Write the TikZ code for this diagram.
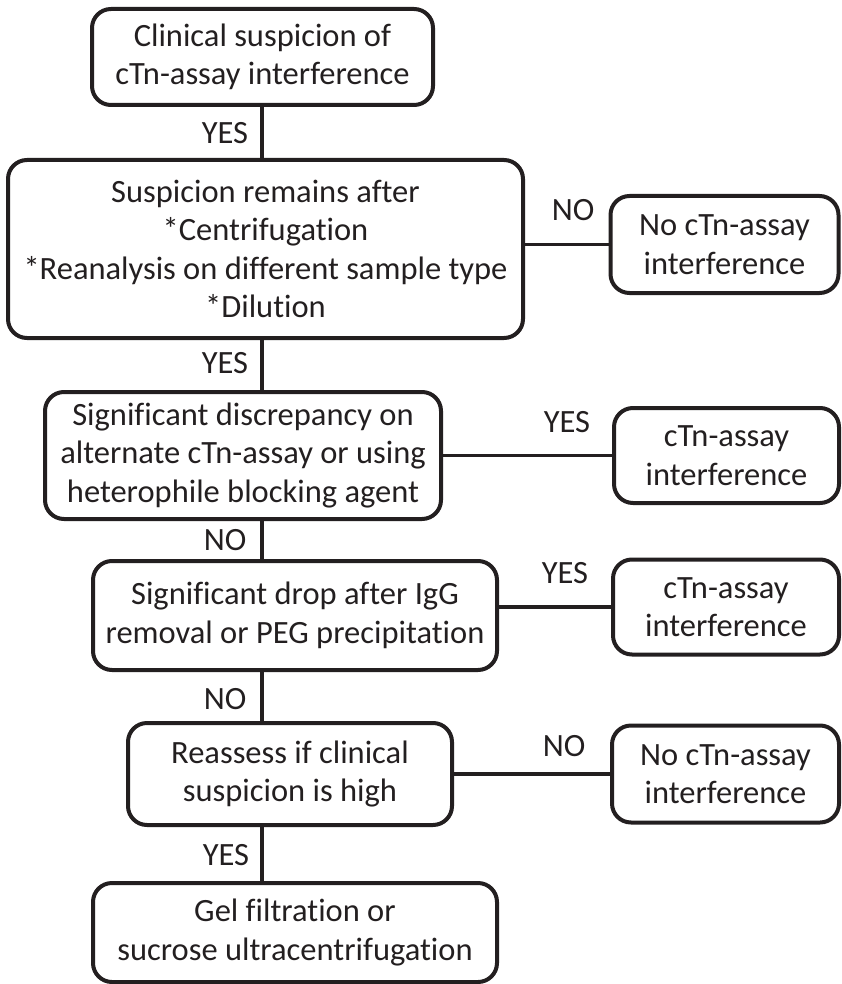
\documentclass[tikz,border=0pt]{standalone}
\usepackage{fontspec}
\setmainfont{Carlito}[Ligatures=NoCommon]
\usepackage{tikz}
\usetikzlibrary{positioning}
\definecolor{myInk}{HTML}{231F20}
\tikzset{
    stepbox/.style={draw=myInk,line width=4pt,rounded corners=19pt,
        rectangle,inner sep=0pt,align=center},
    link/.style={draw=myInk,line width=3.8pt},
    answer/.style={inner sep=0pt},
}

\begin{document}
\begin{tikzpicture}[%
        x=1pt,y=-1pt,
        every node/.style={
            font=\fontsize{32.5}{38.5}\selectfont,
            text=myInk,
        },
    ]
    \useasboundingbox (0,0) rectangle (842,984);

    % main column of boxes
    \node[stepbox,minimum width=341,minimum height=96] (suspicion) at (262.5,57)
        {Clinical suspicion of\\cTn-assay interference};
    \node[stepbox,minimum width=515,minimum height=178] (remains) at (265.5,249)
        {Suspicion remains after\\*Centrifugation\\*Reanalysis on different sample type\\*Dilution};
    \node[stepbox,minimum width=396,minimum height=127] (discrepancy) at (243,455.5)
        {Significant discrepancy on\\alternate cTn-assay or using\\heterophile blocking agent};
    \node[stepbox,minimum width=404,minimum height=109] (drop) at (295,615.5)
        {Significant drop after IgG\\removal or PEG precipitation};
    \node[stepbox,minimum width=324,minimum height=102] (reassess) at (290,774)
        {Reassess if clinical\\suspicion is high};
    \node[stepbox,minimum width=404,minimum height=99] (gel) at (295,932.5)
        {Gel filtration or\\sucrose ultracentrifugation};

    % outcome boxes on the right
    \node[stepbox,minimum width=228,minimum height=97] (outA) at (724.5,244.5)
        {No cTn-assay\\interference};
    \node[stepbox,minimum width=225,minimum height=95] (outB) at (726.5,455.5)
        {cTn-assay\\interference};
    \node[stepbox,minimum width=226,minimum height=95] (outC) at (726,607)
        {cTn-assay\\interference};
    \node[stepbox,minimum width=227,minimum height=97] (outD) at (725.5,774)
        {No cTn-assay\\interference};

    % vertical spine
    \coordinate (spine) at (262,0);
    \draw[link] (suspicion.south -| spine) -- (remains.north -| spine);
    \draw[link] (remains.south -| spine) -- (discrepancy.north -| spine);
    \draw[link] (discrepancy.south -| spine) -- (drop.north -| spine);
    \draw[link] (drop.south -| spine) -- (reassess.north -| spine);
    \draw[link] (reassess.south -| spine) -- (gel.north -| spine);

    % side branches
    \draw[link] (remains.east |- outA) -- (outA.west);
    \draw[link] (discrepancy.east |- outB) -- (outB.west);
    \draw[link] (drop.east |- outC) -- (outC.west);
    \draw[link] (reassess.east |- outD) -- (outD.west);

    % answers
    \node[answer] (yesA) at (225,133) {YES};
    \node[answer] (yesB) at (225,363) {YES};
    \node[answer] (noC) at (225,540) {NO};
    \node[answer] (noD) at (225,699) {NO};
    \node[answer] (yesE) at (226,855) {YES};
    \node[answer] (noA) at (573,210) {NO};
    \node[answer] (yesF) at (567,422) {YES};
    \node[answer] (yesG) at (565,573) {YES};
    \node[answer] (noB) at (564,746) {NO};
\end{tikzpicture}
\end{document}
